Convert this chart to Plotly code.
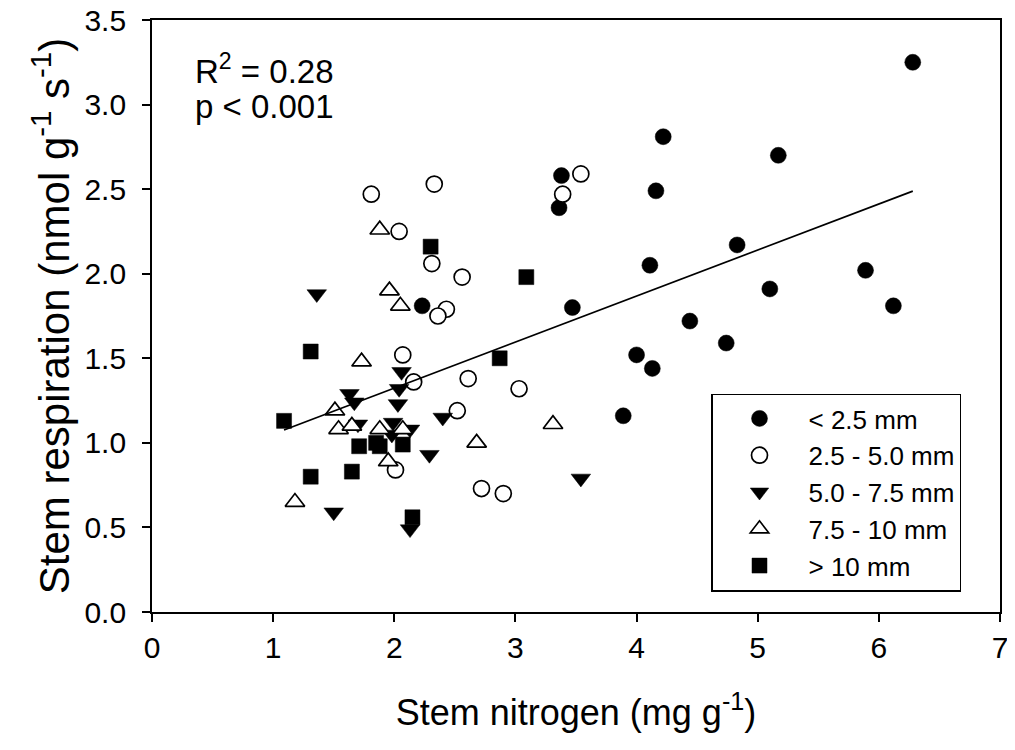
import plotly.graph_objects as go

# ---- data ----
lt25_x = [6.28, 4.22, 5.17, 3.38, 3.36, 4.16, 4.83, 4.11, 5.89, 6.12, 5.10, 3.47, 4.44, 4.74, 4.00, 4.13, 3.89, 2.23]
lt25_y = [3.25, 2.81, 2.70, 2.58, 2.39, 2.49, 2.17, 2.05, 2.02, 1.81, 1.91, 1.80, 1.72, 1.59, 1.52, 1.44, 1.16, 1.81]

g25_50_x = [1.81, 2.33, 2.04, 2.31, 2.56, 2.43, 2.36, 2.07, 2.16, 2.61, 3.03, 2.52, 2.01, 2.72, 2.90, 3.39, 3.54]
g25_50_y = [2.47, 2.53, 2.25, 2.06, 1.98, 1.79, 1.75, 1.52, 1.36, 1.38, 1.32, 1.19, 0.84, 0.73, 0.70, 2.47, 2.59]

g50_75_x = [1.36, 2.06, 1.63, 1.67, 2.04, 2.03, 2.40, 1.70, 1.99, 1.98, 2.13, 2.29, 1.50, 2.13, 3.54]
g50_75_y = [1.88, 1.42, 1.29, 1.24, 1.32, 1.23, 1.15, 1.11, 1.12, 1.05, 1.08, 0.93, 0.59, 0.49, 0.79]

g75_10_x = [1.88, 1.96, 2.05, 1.73, 1.51, 1.54, 1.65, 1.88, 2.07, 2.68, 3.31, 1.95, 1.18]
g75_10_y = [2.26, 1.90, 1.81, 1.48, 1.19, 1.08, 1.10, 1.08, 1.08, 1.00, 1.11, 0.89, 0.65]

gt10_x = [2.30, 3.09, 1.31, 2.87, 1.09, 1.71, 1.85, 1.88, 2.07, 1.65, 1.31, 2.15]
gt10_y = [2.16, 1.98, 1.54, 1.50, 1.13, 0.98, 1.00, 0.98, 0.99, 0.83, 0.80, 0.56]

series_names = ["< 2.5 mm", "2.5 - 5.0 mm", "5.0 - 7.5 mm", "7.5 - 10 mm", "> 10 mm"]

# regression line
fit_intercept = 0.78
fit_slope = 0.272

x_ticks = [0, 1, 2, 3, 4, 5, 6, 7]
y_ticks = [0.0, 0.5, 1.0, 1.5, 2.0, 2.5, 3.0, 3.5]
y_tick_text = ["0.0", "0.5", "1.0", "1.5", "2.0", "2.5", "3.0", "3.5"]

r2_text = "R<sup>2</sup> = 0.28"
p_text = "p < 0.001"

# ---- figure ----
FONT = "Liberation Sans, Arial, sans-serif"
fig = go.Figure()

series = [
    (lt25_x, lt25_y, "circle", "black"),
    (g25_50_x, g25_50_y, "circle", "white"),
    (g50_75_x, g50_75_y, "triangle-down", "black"),
    (g75_10_x, g75_10_y, "triangle-up", "white"),
    (gt10_x, gt10_y, "square", "black"),
]
sizes = {"circle": 16, "triangle-down": 17, "triangle-up": 17, "square": 15}

for i, ((xs, ys, sym, fill), name) in enumerate(zip(series, series_names)):
    fig.add_trace(go.Scatter(
        x=xs, y=ys, mode="markers", name=name,
        marker=dict(symbol=sym, size=sizes[sym], color=fill,
                    line=dict(color="black", width=1.7 if fill == "white" else 0.5)),
    ))

all_x = lt25_x + g25_50_x + g50_75_x + g75_10_x + gt10_x
fx = [min(all_x), max(all_x)]
fy = [fit_intercept + fit_slope * v for v in fx]
fig.add_trace(go.Scatter(x=fx, y=fy, mode="lines", showlegend=False,
                         line=dict(color="black", width=1.7)))

for txt, ypix in [(r2_text, 69), (p_text, 107)]:
    fig.add_annotation(text=txt, xref="paper", yref="paper",
                       x=(193 - 152) / 848, y=(612 - ypix) / 592,
                       xanchor="left", yanchor="middle", align="left", showarrow=False,
                       font=dict(family=FONT, size=33, color="black"))

axis_common = dict(showgrid=False, zeroline=False, showline=True, linecolor="black",
                   linewidth=1.7, mirror=True, ticks="outside", ticklen=8,
                   tickwidth=1.7, tickcolor="black", automargin=False,
                   ticklabeloverflow="allow",
                   tickfont=dict(family=FONT, size=30, color="black"))

# page body has an 8px margin, so the figure is offset by 8px
fig.update_layout(
    width=1007, height=742,
    margin=dict(l=144, r=15, t=12, b=138),
    plot_bgcolor="white", paper_bgcolor="white",
    font=dict(family=FONT, color="black"),
    xaxis=dict(range=[0, 7], tickvals=x_ticks, ticklabelstandoff=0, **axis_common,
               title=dict(text="Stem nitrogen (mg g<sup>-1</sup>)",
                          font=dict(family=FONT, size=36), standoff=37)),
    yaxis=dict(range=[0, 3.5], tickvals=y_ticks, ticktext=y_tick_text,
               ticklabelstandoff=10, **axis_common,
               title=dict(text="Stem respiration (nmol g<sup>-1</sup> s<sup>-1</sup>)",
                          font=dict(family=FONT, size=42), standoff=2)),
    showlegend=True,
    legend=dict(x=(711 - 152) / 848, y=(612 - 492.5) / 592, xanchor="left", yanchor="middle",
                bgcolor="white", bordercolor="black", borderwidth=1.5,
                font=dict(family=FONT, size=26, color="black"),
                tracegroupgap=0, itemwidth=88, indentation=-2,
                entrywidth=170, entrywidthmode="pixels"),
)

fig.write_html("out.html")
